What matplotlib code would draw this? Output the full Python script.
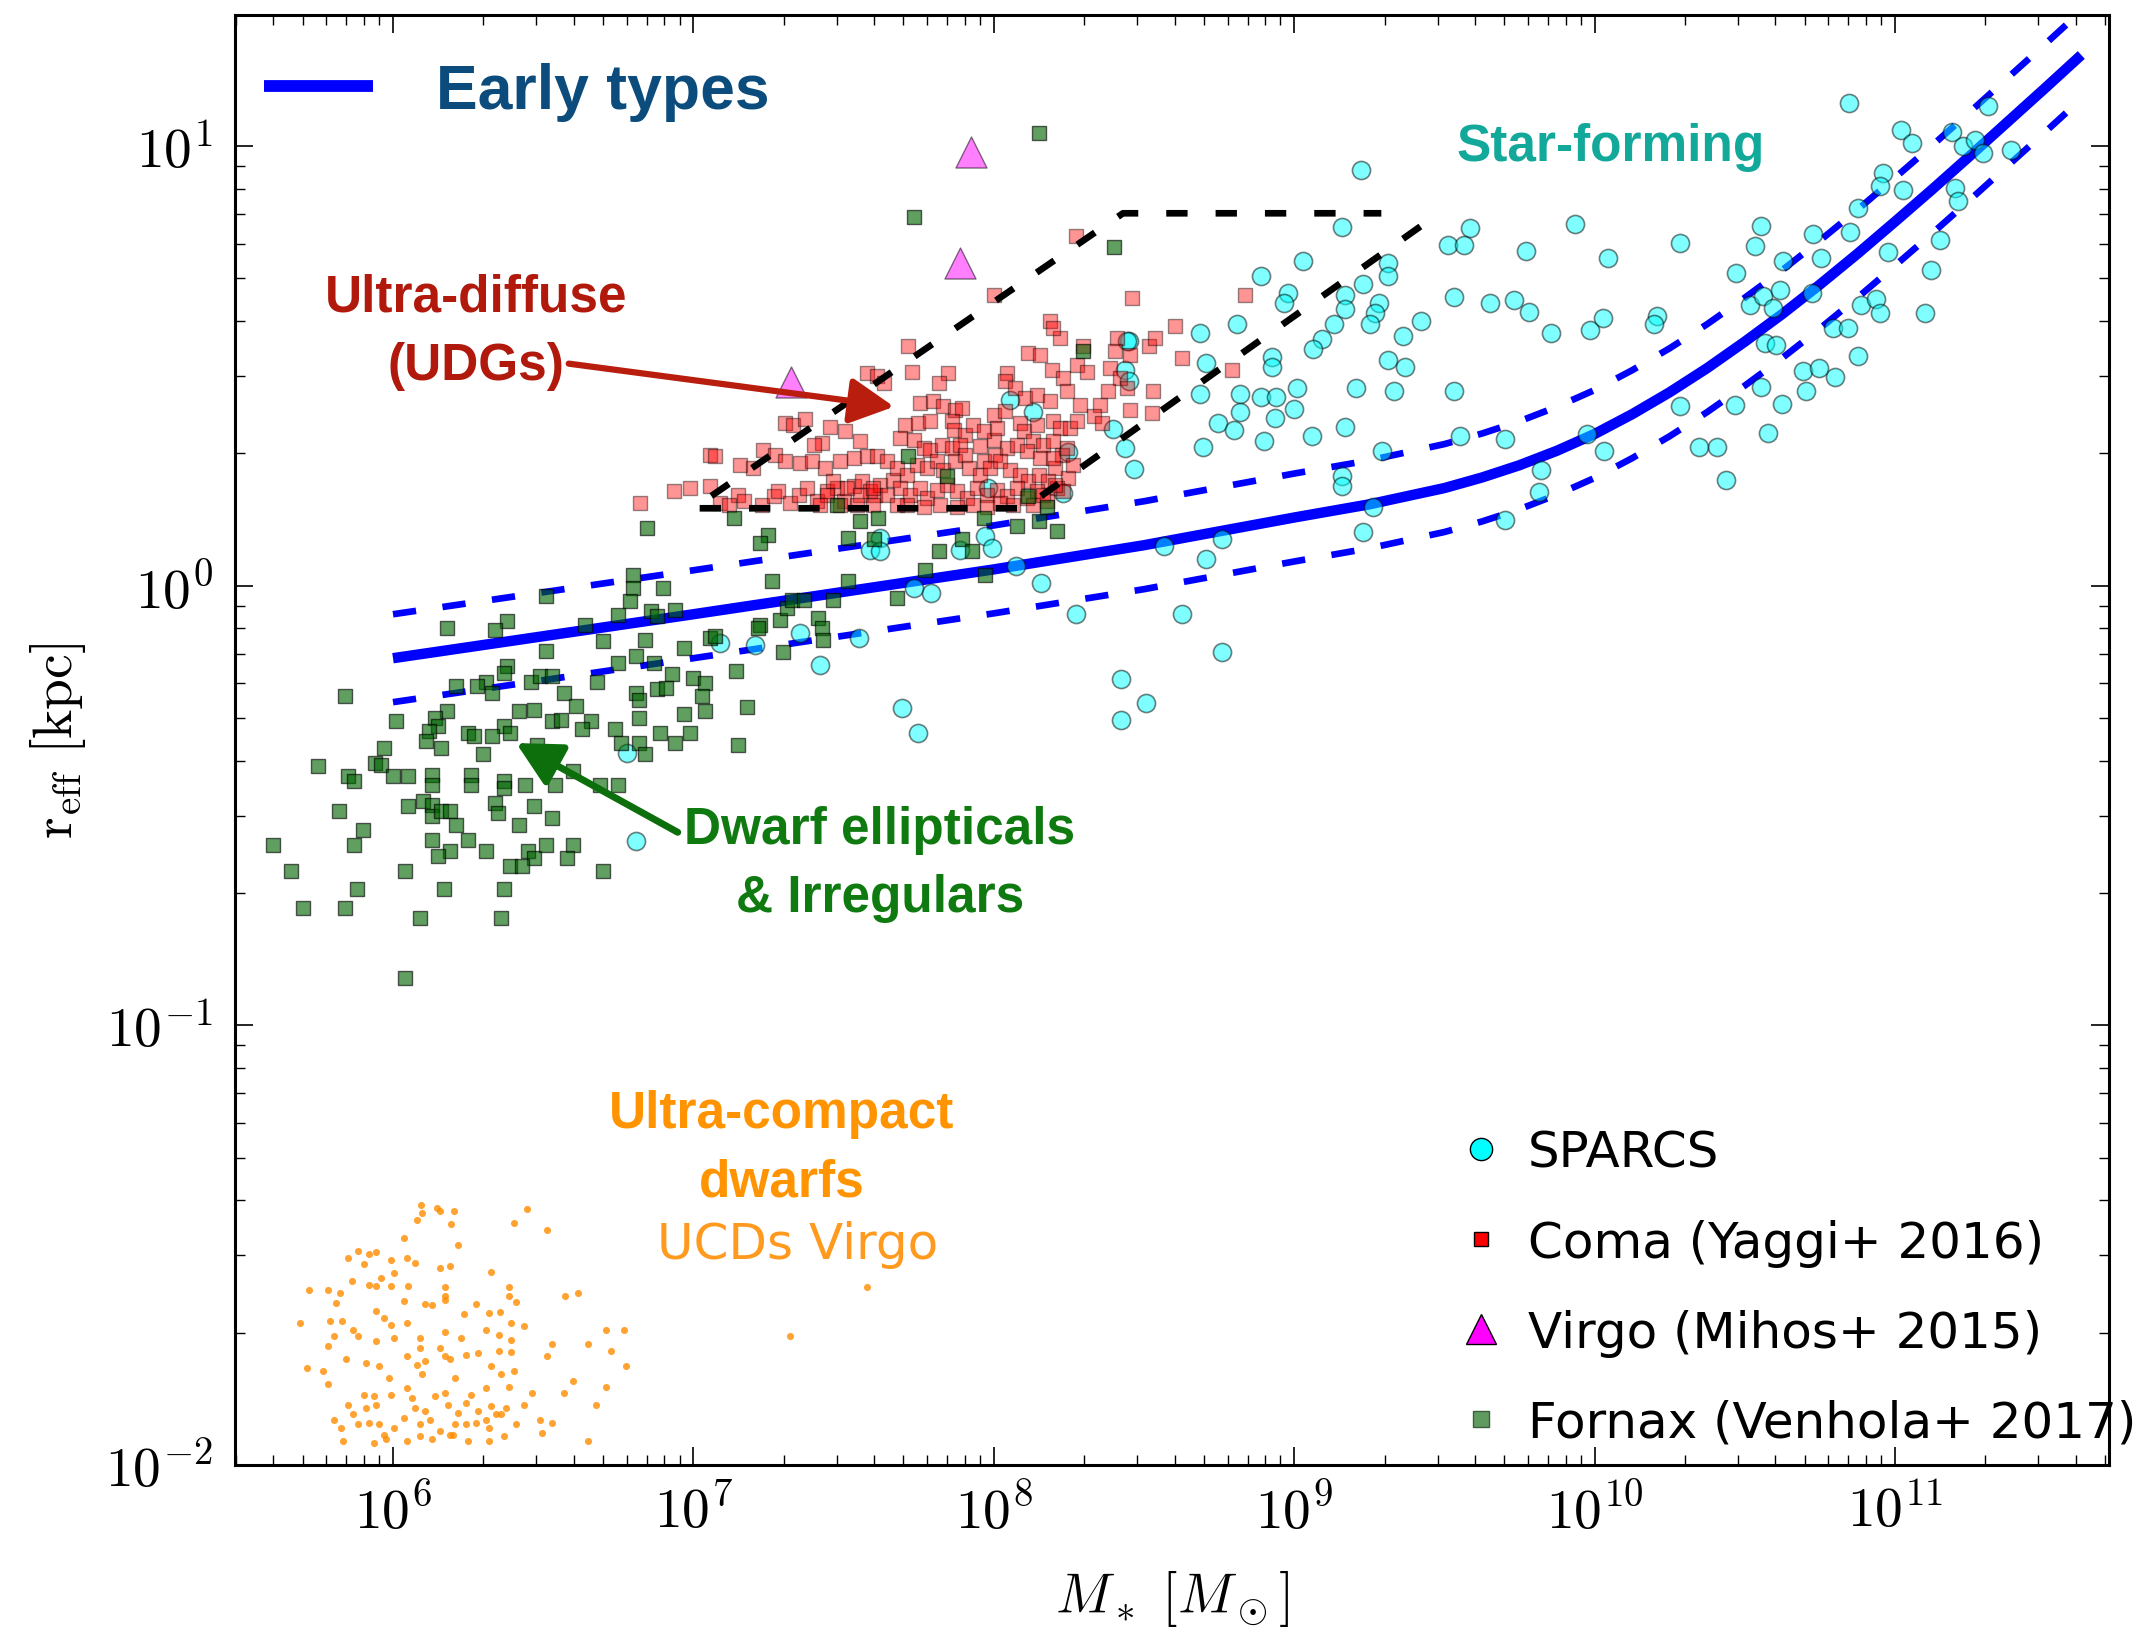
import numpy as np
import matplotlib
matplotlib.use("Agg")
import matplotlib.pyplot as plt
from matplotlib.lines import Line2D
from matplotlib.ticker import FixedLocator, FuncFormatter, LogLocator, NullFormatter

plt.rcParams["mathtext.fontset"] = "cm"
plt.rcParams["font.family"] = "DejaVu Sans"

# all positions are log10(M*/Msun), log10(r_eff/kpc)

# early-type size-mass relation and its +-1 sigma band
early_logm = [6.0, 6.5, 7.0, 7.5, 8.0, 8.5, 9.0, 9.25, 9.5, 9.625, 9.75, 9.875, 10.0,
              10.125, 10.25, 10.375, 10.5, 10.625, 10.75, 10.875, 11.0, 11.125,
              11.25, 11.375, 11.5, 11.62]
early_logr = [-0.165, -0.115, -0.065, -0.014, 0.037, 0.092, 0.155, 0.185, 0.222, 0.246,
              0.274, 0.307, 0.345, 0.390, 0.440, 0.495, 0.555, 0.618, 0.685, 0.755,
              0.828, 0.902, 0.978, 1.055, 1.132, 1.207]
early_hi_logr = [-0.065, -0.015, 0.035, 0.086, 0.137, 0.192, 0.255, 0.285, 0.322, 0.346,
                 0.374, 0.407, 0.445, 0.490, 0.540, 0.595, 0.655, 0.718, 0.785, 0.855,
                 0.928, 1.002, 1.078, 1.155, 1.232, 1.307]
early_lo_logr = [-0.265, -0.215, -0.165, -0.114, -0.063, -0.008, 0.055, 0.085, 0.122, 0.146,
                 0.174, 0.207, 0.245, 0.290, 0.340, 0.395, 0.455, 0.518, 0.585, 0.655,
                 0.728, 0.802, 0.878, 0.955, 1.032, 1.107]

# UDG selection box (open path, top-right corner hidden)
udg_box_logm = [9.42, 8.10, 7.00, 8.43, 9.29]
udg_box_logr = [0.817, 0.176, 0.176, 0.847, 0.847]

sparcs_logm = [
    10.847, 11.019, 11.058, 11.188, 11.227, 11.265, 11.293, 11.310, 11.387, 10.960, 10.949,
    11.027, 10.877, 11.199, 11.210, 11.149, 11.121, 11.099, 10.977, 10.727, 10.849, 10.755,
    10.555, 10.533, 10.284, 10.628, 10.472, 10.517, 10.561, 10.616, 10.594, 10.722, 10.206,
    10.794, 10.844, 10.888, 10.938, 10.949, 10.567, 10.605, 10.877, 10.694, 10.747, 10.799,
    10.705, 10.555, 10.467, 10.625, 10.284, 10.578, 10.348, 10.406, 10.437,
    9.222, 9.160, 9.584, 9.513, 9.566, 9.935, 9.771, 10.044, 9.029, 8.889, 9.311, 9.311,
    9.228, 8.978, 8.966, 9.168, 9.168, 9.281, 9.269, 9.251, 9.132, 9.091, 9.061, 9.533,
    9.652, 9.733, 9.783, 9.854, 9.985, 10.027, 9.421, 9.362, 8.687, 8.808, 8.927, 8.927,
    8.708, 9.311, 9.370, 9.207, 9.331, 9.531, 8.687, 8.818, 8.889, 8.939, 9.008, 8.818,
    8.998, 8.936, 8.746, 8.800, 8.696, 8.898, 9.058, 9.168, 9.552, 9.703, 9.291, 10.032,
    9.973, 9.160, 9.160, 9.822, 9.814, 9.263, 9.703, 9.228, 8.708, 8.627, 8.758, 8.425,
    8.506, 8.425, 8.467, 8.437, 8.396, 8.449, 8.437, 8.449, 10.196,
    8.758, 8.565, 8.156, 8.074, 7.792, 7.733, 7.970, 7.993, 7.889, 8.275, 7.747, 7.695,
    8.230, 8.442, 8.054, 8.132, 8.248, 7.982, 7.622, 7.588, 7.622, 7.355, 7.206, 7.550,
    6.780, 6.810, 7.420, 7.090]
sparcs_logr = [
    1.098, 1.037, 1.007, 1.033, 0.999, 1.014, 0.984, 1.090, 0.992, 0.939, 0.908,
    0.901, 0.859, 0.905, 0.874, 0.787, 0.719, 0.620, 0.760, 0.800, 0.804, 0.745,
    0.817, 0.772, 0.779, 0.739, 0.711, 0.639, 0.658, 0.673, 0.632, 0.666, 0.613,
    0.586, 0.586, 0.639, 0.651, 0.620, 0.552, 0.548, 0.522, 0.488, 0.494, 0.474,
    0.442, 0.453, 0.412, 0.413, 0.408, 0.347, 0.315, 0.315, 0.241,
    0.945, 0.815, 0.813, 0.774, 0.774, 0.822, 0.761, 0.746, 0.739, 0.704, 0.735, 0.704,
    0.687, 0.665, 0.643, 0.661, 0.630, 0.643, 0.621, 0.595, 0.595, 0.561, 0.539, 0.656,
    0.643, 0.649, 0.622, 0.574, 0.582, 0.609, 0.602, 0.568, 0.574, 0.595, 0.519, 0.498,
    0.507, 0.513, 0.498, 0.449, 0.443, 0.443, 0.437, 0.437, 0.430, 0.428, 0.449, 0.395,
    0.402, 0.382, 0.369, 0.354, 0.315, 0.328, 0.341, 0.361, 0.341, 0.333, 0.307, 0.307,
    0.345, 0.249, 0.226, 0.263, 0.213, 0.178, 0.150, 0.121, 0.061, -0.064, -0.152, -0.213,
    -0.267, -0.305, 0.265, 0.313, 0.356, 0.556, 0.491, 0.465, 0.595,
    0.105, 0.090, 0.006, 0.044, -0.017, -0.005, 0.112, 0.086, 0.082, -0.064, -0.335, -0.278,
    0.211, 0.556, 0.423, 0.396, 0.305, 0.222, 0.108, 0.082, 0.078, -0.108, -0.134, -0.119,
    -0.381, -0.580, -0.180, -0.130]

coma_logm = [
    7.999, 8.459, 7.716, 7.727, 7.577, 7.610, 7.633, 7.849, 7.816, 8.187, 8.221, 8.198,
    8.115, 8.154, 8.193, 8.298, 8.276, 8.309, 8.409, 8.404, 8.454, 8.515, 8.537, 8.387,
    8.420, 8.442, 8.531, 8.526, 8.454, 8.043, 8.038, 8.071, 8.104, 8.143, 8.187, 8.232,
    8.243, 8.287, 8.354, 8.381, 8.332, 8.359, 7.999, 8.038, 8.088,
    7.755, 7.799, 7.832, 7.871, 7.893, 7.860, 7.866, 7.905, 7.705, 7.749, 7.788, 7.688,
    7.733, 7.766, 7.788, 7.827, 7.860, 7.888, 7.954, 7.999, 7.966, 8.004, 8.043, 8.076,
    8.099, 8.143, 8.198, 8.221, 8.254, 8.276, 8.132, 8.165, 8.198, 8.226, 8.110, 8.154,
    8.204, 8.248,
    7.306, 7.333, 7.372, 7.455, 7.505, 7.555, 7.427, 7.400, 7.233, 7.056, 7.073, 7.156,
    7.200, 7.272, 7.306, 7.355, 7.394, 7.439, 7.489, 7.533, 7.577, 7.610, 7.644, 6.934,
    6.989, 7.056, 7.089, 7.150, 7.117, 7.167, 7.228, 7.267, 7.283, 7.322, 7.350, 7.378,
    7.411, 7.444, 7.477, 7.500, 7.533, 7.561, 7.588, 7.605, 7.622, 7.666, 6.823,
    7.677, 7.710, 7.744, 7.777, 7.810, 7.832, 7.871, 7.905, 7.916, 7.954, 7.988, 8.021,
    8.054, 8.088, 8.115, 8.149, 8.182, 8.210, 8.232, 7.688, 7.721, 7.755, 7.777, 7.810,
    7.844, 7.877, 7.910, 7.943, 7.977, 8.010, 8.043, 8.076, 8.110, 8.143, 8.176, 7.710,
    7.766, 7.821, 7.877, 7.932, 7.977, 8.021, 8.065, 8.132, 8.165, 8.204, 7.466, 7.511,
    7.555, 7.599, 7.644, 7.677, 7.599, 7.544, 7.488, 7.444, 7.422, 8.198, 8.243, 8.265,
    7.932, 7.966, 8.010,
    8.835, 8.604, 8.627, 8.794, 8.273]
coma_logr = [
    0.662, 0.654, 0.544, 0.487, 0.484, 0.476, 0.461, 0.484, 0.461, 0.601, 0.563, 0.586,
    0.529, 0.525, 0.491, 0.544, 0.503, 0.487, 0.563, 0.533, 0.525, 0.544, 0.563, 0.495,
    0.472, 0.450, 0.442, 0.393, 0.400, 0.484, 0.465, 0.450, 0.427, 0.434, 0.419, 0.472,
    0.442, 0.412, 0.412, 0.442, 0.385, 0.370, 0.389, 0.397, 0.370,
    0.415, 0.419, 0.408, 0.400, 0.404, 0.374, 0.355, 0.343, 0.366, 0.370, 0.374, 0.336,
    0.332, 0.313, 0.309, 0.321, 0.313, 0.321, 0.317, 0.332, 0.283, 0.298, 0.313, 0.321,
    0.351, 0.366, 0.374, 0.359, 0.359, 0.374, 0.328, 0.321, 0.328, 0.298, 0.306, 0.290,
    0.268, 0.245,
    0.370, 0.366, 0.378, 0.362, 0.351, 0.328, 0.324, 0.321, 0.309, 0.298, 0.294, 0.275,
    0.268, 0.298, 0.283, 0.279, 0.283, 0.268, 0.283, 0.290, 0.294, 0.294, 0.283, 0.215,
    0.222, 0.226, 0.188, 0.207, 0.184, 0.192, 0.184, 0.203, 0.215, 0.188, 0.207, 0.222,
    0.192, 0.215, 0.222, 0.192, 0.226, 0.237, 0.215, 0.207, 0.230, 0.241, 0.188,
    0.268, 0.252, 0.275, 0.268, 0.283, 0.264, 0.283, 0.298, 0.268, 0.252, 0.268, 0.283,
    0.264, 0.252, 0.237, 0.252, 0.237, 0.222, 0.215, 0.222, 0.207, 0.222, 0.199, 0.218,
    0.230, 0.215, 0.199, 0.222, 0.207, 0.218, 0.203, 0.222, 0.199, 0.215, 0.192, 0.184,
    0.180, 0.184, 0.180, 0.184, 0.180, 0.188, 0.184, 0.184, 0.207, 0.230, 0.237, 0.222,
    0.207, 0.222, 0.207, 0.184, 0.184, 0.184, 0.184, 0.207, 0.184, 0.290, 0.313, 0.275,
    0.366, 0.351, 0.359,
    0.661, 0.591, 0.517, 0.491, 0.795]

virgo_logm = [7.924, 7.887, 7.325]
virgo_logr = [0.986, 0.735, 0.463]

fornax_logm = [
    6.80, 6.80, 6.90, 6.79, 6.75, 6.86, 6.88, 6.94, 6.64, 6.51, 6.38, 6.34, 6.18, 6.70,
    6.84, 6.97, 6.51, 6.81, 6.75, 6.87, 6.93, 7.00, 7.04, 6.68, 6.81, 6.82, 6.88, 6.91,
    7.03, 7.04, 6.38, 6.37, 6.31, 6.28, 6.33, 6.21, 6.46, 6.49, 6.53, 6.57, 6.61, 6.53,
    6.56, 6.66, 6.63, 6.74, 6.76, 6.82, 6.84, 6.82, 6.89, 6.94, 6.97, 6.99, 6.42, 6.47,
    6.37, 6.39, 6.33, 6.25, 6.27, 6.30, 6.48, 6.52, 6.60, 6.18, 6.14, 6.15, 6.12, 6.11,
    6.16, 6.01, 5.97, 5.94, 5.96, 5.75, 5.84, 5.85, 5.87, 6.00, 6.05, 6.13, 6.13, 6.26,
    6.26, 6.37, 6.37, 6.44, 6.54, 6.69, 6.75, 6.05, 6.10, 6.13, 6.13, 6.16, 6.19, 6.21,
    6.34, 6.35, 6.47, 6.53, 6.42, 6.13, 6.25, 6.19, 6.15, 6.31, 6.45, 6.47, 6.51, 6.60,
    6.58, 6.39, 6.43, 6.70, 5.82, 5.90, 5.87, 5.60, 5.66, 6.04, 5.88, 6.17, 6.37, 5.70,
    5.84, 6.09, 6.36, 6.04,
    6.845, 7.134, 7.250, 7.222, 7.261, 7.222, 7.289, 7.311, 7.328, 7.367, 7.416, 7.428,
    7.466, 7.516, 7.516, 7.555, 7.616, 7.600, 7.677, 7.771, 7.816, 7.893, 7.927, 7.971,
    7.966, 8.076, 8.176, 8.210, 8.149, 7.844, 7.716, 7.477, 8.298, 8.115, 7.056, 7.073,
    7.433,
    7.216, 7.298, 7.143, 7.180, 7.148,
    8.150, 7.736, 8.400]
fornax_logr = [
    0.025, -0.005, -0.005, -0.036, -0.066, -0.058, -0.070, -0.055, -0.089, -0.024, -0.081,
    -0.100, -0.096, -0.127, -0.123, -0.142, -0.149, -0.161, -0.176, -0.176, -0.202, -0.210,
    -0.221, -0.218, -0.244, -0.259, -0.236, -0.233, -0.252, -0.286, -0.183, -0.199, -0.218,
    -0.229, -0.244, -0.229, -0.218, -0.206, -0.206, -0.244, -0.274, -0.308, -0.305, -0.308,
    -0.327, -0.327, -0.358, -0.358, -0.384, -0.301, -0.335, -0.358, -0.293, -0.335, -0.286,
    -0.282, -0.320, -0.335, -0.343, -0.335, -0.343, -0.384, -0.362, -0.388, -0.422, -0.286,
    -0.301, -0.320, -0.331, -0.354, -0.369, -0.308, -0.369, -0.403, -0.407, -0.411, -0.252,
    -0.434, -0.445, -0.434, -0.434, -0.430, -0.453, -0.430, -0.453, -0.445, -0.460, -0.453,
    -0.453, -0.453, -0.453, -0.502, -0.490, -0.498, -0.525, -0.513, -0.513, -0.544, -0.494,
    -0.517, -0.502, -0.528, -0.544, -0.578, -0.578, -0.604, -0.616, -0.604, -0.604, -0.619,
    -0.589, -0.589, -0.619, -0.638, -0.638, -0.650, -0.513, -0.555, -0.589, -0.589, -0.650,
    -0.650, -0.691, -0.691, -0.691, -0.733, -0.733, -0.756, -0.756, -0.892,
    0.131, 0.154, 0.116, 0.097, 0.010, -0.089, -0.077, -0.051, -0.032, -0.032, -0.074,
    -0.096, -0.032, 0.010, 0.108, 0.146, 0.154, 0.105, -0.028, 0.036, 0.078, 0.105, 0.078,
    0.025, 0.154, 0.135, 0.180, 0.124, 0.146, 0.249, 0.294, 0.184, 0.533, 0.203, -0.119,
    -0.115, -0.123,
    -0.096, -0.152, -0.195, -0.276, -0.363,
    1.030, 0.839, 0.770]

ucd_logm = [
    6.092, 6.097, 6.148, 6.157, 6.202, 6.194, 6.080, 6.038, 6.216, 6.445, 6.403, 6.513,
    5.851, 5.885, 5.919, 5.944, 5.902, 5.995, 6.046, 6.072, 6.157, 6.191, 6.326, 6.004,
    5.961, 5.919, 5.944, 5.863, 5.822, 5.783, 5.720, 5.995, 6.051, 6.174, 6.174, 6.386,
    6.386, 6.573, 6.615, 5.809, 6.038, 6.106, 6.131, 6.174, 6.276, 6.411, 5.944, 5.970,
    6.238, 6.318, 6.355, 6.394, 6.437, 5.690, 5.792, 5.831, 5.868, 5.995, 6.046, 6.309,
    5.804, 5.885, 5.944, 6.004, 6.089, 6.174, 6.225, 6.352, 6.394, 6.708, 6.768, 5.783,
    5.843, 5.910, 6.046, 6.089, 6.157, 6.174, 6.242, 6.284, 6.352, 6.394, 6.530, 6.513,
    6.649, 6.725, 5.715, 5.766, 5.783, 5.953, 5.987, 6.080, 6.097, 6.106, 6.191, 6.208,
    6.326, 6.360, 6.403, 6.462, 6.437, 6.598, 6.568, 6.708, 6.776, 6.675, 5.851, 5.902,
    5.936, 5.910, 5.944, 5.995, 6.046, 6.063, 6.072, 6.106, 6.140, 6.174, 6.182, 6.216,
    6.242, 6.259, 6.284, 6.309, 6.326, 6.343, 6.377, 6.386, 5.804, 5.826, 5.868, 5.885,
    5.919, 5.953, 5.970, 6.004, 6.038, 6.089, 6.123, 6.157, 6.191, 6.208, 6.242, 6.276,
    6.309, 6.318, 6.360, 6.369, 6.411, 6.488, 6.530, 6.496, 5.834, 5.936, 5.978, 6.046,
    6.089, 6.131, 6.199, 6.250, 6.318, 6.649, 7.579, 7.320]
ucd_logr = [
    -1.409, -1.427, -1.415, -1.423, -1.423, -1.453, -1.442, -1.484, -1.499, -1.417, -1.449,
    -1.465, -1.529, -1.514, -1.521, -1.515, -1.544, -1.533, -1.529, -1.540, -1.552, -1.548,
    -1.561, -1.563, -1.575, -1.590, -1.593, -1.582, -1.609, -1.601, -1.603, -1.593, -1.593,
    -1.596, -1.616, -1.596, -1.616, -1.616, -1.610, -1.631, -1.628, -1.635, -1.637, -1.624,
    -1.635, -1.629, -1.650, -1.665, -1.656, -1.654, -1.652, -1.677, -1.684, -1.677, -1.673,
    -1.673, -1.692, -1.681, -1.677, -1.692, -1.707, -1.707, -1.719, -1.712, -1.711, -1.697,
    -1.712, -1.705, -1.715, -1.692, -1.692, -1.730, -1.760, -1.768, -1.753, -1.734, -1.734,
    -1.753, -1.749, -1.745, -1.740, -1.743, -1.726, -1.753, -1.726, -1.740, -1.779, -1.787,
    -1.816, -1.775, -1.802, -1.772, -1.794, -1.764, -1.760, -1.802, -1.775, -1.794, -1.787,
    -1.836, -1.863, -1.809, -1.836, -1.823, -1.775, -1.863, -1.864, -1.840, -1.844, -1.870,
    -1.863, -1.840, -1.825, -1.847, -1.870, -1.878, -1.844, -1.836, -1.863, -1.882, -1.859,
    -1.840, -1.878, -1.825, -1.866, -1.885, -1.870, -1.823, -1.897, -1.916, -1.885, -1.908,
    -1.904, -1.908, -1.931, -1.916, -1.893, -1.908, -1.897, -1.923, -1.931, -1.908, -1.908,
    -1.904, -1.897, -1.916, -1.885, -1.935, -1.908, -1.897, -1.904, -1.927, -1.946, -1.950,
    -1.942, -1.946, -1.935, -1.942, -1.931, -1.946, -1.946, -1.946, -1.596, -1.707]

xtick_decades = [6, 7, 8, 9, 10, 11]
ytick_decades = [-2, -1, 0, 1]


def lin(a):
    return 10.0 ** np.asarray(a)


fig = plt.figure(figsize=(21.38, 16.33), dpi=100)
ax = fig.add_axes([0.1099, 0.1023, 0.8765, 0.8879])
ax.set_xscale("log")
ax.set_yscale("log")
ax.set_xlim(10 ** 5.474, 10 ** 11.712)
ax.set_ylim(1e-2, 10 ** 1.298)

# size-mass relation of early types
early_line, = ax.plot(lin(early_logm), lin(early_logr), color="blue", lw=7.5, zorder=2,
                      solid_capstyle="butt")
for band in (early_hi_logr, early_lo_logr):
    ax.plot(lin(early_logm), lin(band), color="blue", lw=4.8, ls=(0, (3.5, 4.0)), zorder=2)

# data sets
ax.scatter(lin(sparcs_logm), lin(sparcs_logr), s=170, marker="o", c="cyan",
           edgecolors="k", linewidths=1.2, alpha=0.5, zorder=3)
ax.scatter(lin(coma_logm), lin(coma_logr), s=115, marker="s", c="red",
           edgecolors="k", linewidths=1.0, alpha=0.42, zorder=3)
ax.scatter(lin(virgo_logm), lin(virgo_logr), s=500, marker="^", c="magenta",
           edgecolors="k", linewidths=1.0, alpha=0.5, zorder=3)
ax.scatter(lin(fornax_logm), lin(fornax_logr), s=105, marker="s", c="darkgreen",
           edgecolors="k", linewidths=1.0, alpha=0.62, zorder=3)
ax.scatter(lin(ucd_logm), lin(ucd_logr), s=26, marker="o", c="darkorange",
           linewidths=0, alpha=0.8, zorder=3)

# UDG selection box
ax.plot(lin(udg_box_logm), lin(udg_box_logr), color="k", lw=4.8, ls=(0, (3.2, 4.2)), zorder=4)

# axes styling: labelled decades only, plain minor ticks
ax.xaxis.set_major_locator(FixedLocator(lin(xtick_decades)))
ax.yaxis.set_major_locator(FixedLocator(lin(ytick_decades)))
ax.xaxis.set_minor_locator(LogLocator(base=10, subs=np.arange(2, 10), numticks=20))
ax.yaxis.set_minor_locator(LogLocator(base=10, subs=np.arange(2, 10), numticks=20))
fmt = FuncFormatter(lambda v, p: r"$10^{%d}$" % int(round(np.log10(v))))
ax.xaxis.set_major_formatter(fmt)
ax.yaxis.set_major_formatter(fmt)
ax.xaxis.set_minor_formatter(NullFormatter())
ax.yaxis.set_minor_formatter(NullFormatter())
ax.tick_params(which="both", direction="in", top=True, right=True, labelsize=40)
ax.tick_params(which="major", length=13, width=1.2)
ax.tick_params(which="minor", length=7, width=1.0)
ax.tick_params(axis="x", which="major", pad=14)
ax.tick_params(axis="y", which="major", pad=16)
for sp in ax.spines.values():
    sp.set_linewidth(2.2)

ax.set_xlabel(r"$M_*\ [M_\odot]$", fontsize=40, labelpad=20)
ax.set_ylabel(r"$\mathrm{r_{eff}}\ [\mathrm{kpc}]$", fontsize=40, labelpad=12)

# legends
lead = ax.legend([early_line], ["Early types"], loc="center left",
                 bbox_to_anchor=(0.0153, 0.947), frameon=False, borderpad=0,
                 borderaxespad=0, handlelength=1.75, handletextpad=1.0,
                 prop={"family": "Liberation Sans", "weight": "bold", "size": 45})
lead.get_texts()[0].set_color("#0b4c7d")
lead.get_lines()[0].set_linewidth(8.5)
ax.add_artist(lead)

handles = [
    Line2D([], [], ls="none", marker="o", ms=16, mfc="cyan", mec="k", mew=1.0),
    Line2D([], [], ls="none", marker="s", ms=10, mfc="red", mec="k", mew=1.0),
    Line2D([], [], ls="none", marker="^", ms=22, mfc="magenta", mec="k", mew=1.0),
    Line2D([], [], ls="none", marker="s", ms=11, mfc="#5f9a5f", mec="#3d5e3d", mew=1.0),
]
labels = ["SPARCS", "Coma (Yaggi+ 2016)", "Virgo (Mihos+ 2015)", "Fornax (Venhola+ 2017)"]
ax.legend(handles, labels, loc="upper left", bbox_to_anchor=(0.6522, 0.232),
          frameon=False, borderpad=0, borderaxespad=0, handlelength=0.95,
          handletextpad=0.47, labelspacing=0.84, fontsize=36)

# annotations
bold = {"family": "Liberation Sans", "weight": "bold"}
ax.text(lin(10.052), lin(1.0), "Star-forming", color="#12a89a", fontsize=37,
        ha="center", va="center", zorder=6, **bold)
ax.text(lin(6.277), lin(0.578), "Ultra-diffuse\n(UDGs)", color="#b0190c", fontsize=37,
        ha="center", va="center", linespacing=1.52, zorder=6, **bold)
ax.annotate("", xy=(lin(7.668), lin(0.407)), xytext=(lin(6.585), lin(0.505)),
            arrowprops=dict(arrowstyle="-|>,head_length=1.35,head_width=0.7", lw=4.5,
                            color="#b81d0e", shrinkA=0, shrinkB=0, mutation_scale=20),
            zorder=6)
ax.text(lin(7.62), lin(-0.631), "Dwarf ellipticals\n& Irregulars", color="#0f7a10",
        fontsize=37, ha="center", va="center", linespacing=1.5, zorder=6, **bold)
ax.annotate("", xy=(lin(6.41), lin(-0.358)), xytext=(lin(6.948), lin(-0.561)),
            arrowprops=dict(arrowstyle="-|>,head_length=1.35,head_width=0.7", lw=5,
                            color="#0c6f0c", shrinkA=0, shrinkB=0, mutation_scale=20),
            zorder=6)
ax.text(lin(7.293), lin(-1.279), "Ultra-compact\ndwarfs", color="#ff9300", fontsize=37,
        ha="center", va="center", linespacing=1.5, zorder=6, **bold)
ax.text(lin(7.348), lin(-1.498), "UCDs Virgo", color="#ff9a1f", fontsize=36,
        ha="center", va="center", zorder=6)

fig.savefig("out.png", dpi=100)
